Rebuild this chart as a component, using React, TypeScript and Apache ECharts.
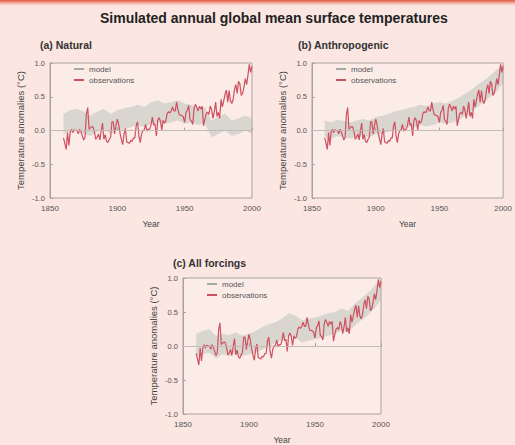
import React, { useEffect, useRef } from "react";
import * as echarts from "echarts";

const mainTitle = "Simulated annual global mean surface temperatures";
const panelTitles = ["(a) Natural", "(b) Anthropogenic", "(c) All forcings"];
const legendNames = ["model", "observations"];
const xTicks = [1850, 1900, 1950, 2000];
const yRange = [-1.0, 1.0];

const obsStart = 1860;
const observations = [
  -0.11, -0.19, -0.28, -0.03, -0.22, -0.03, 0.02, -0.03, 0.01, 0.0,
  0.0, -0.05, 0.02, -0.02, -0.08, -0.14, -0.1, 0.24, 0.34, 0.02,
  0.04, 0.06, 0.05, -0.02, -0.13, -0.1, -0.05, -0.14, -0.01, 0.11,
  -0.13, -0.06, -0.16, -0.18, -0.13, -0.1, 0.13, 0.13, -0.05, 0.07,
  0.17, 0.09, -0.04, -0.13, -0.21, -0.05, 0.03, -0.17, -0.18, -0.19,
  -0.15, -0.16, -0.11, -0.11, 0.07, 0.13, -0.08, -0.18, -0.05, 0.0,
  0.01, 0.09, -0.01, 0.02, 0.02, 0.08, 0.2, 0.08, 0.1, -0.08,
  0.15, 0.19, 0.14, 0.01, 0.15, 0.11, 0.14, 0.25, 0.28, 0.26,
  0.29, 0.35, 0.29, 0.29, 0.42, 0.31, 0.23, 0.23, 0.22, 0.2,
  0.12, 0.27, 0.3, 0.37, 0.16, 0.14, 0.09, 0.33, 0.39, 0.34,
  0.29, 0.36, 0.32, 0.36, 0.07, 0.17, 0.25, 0.27, 0.24, 0.36,
  0.31, 0.18, 0.28, 0.42, 0.21, 0.27, 0.18, 0.46, 0.35, 0.44,
  0.54, 0.6, 0.42, 0.59, 0.44, 0.4, 0.46, 0.61, 0.68, 0.55,
  0.73, 0.69, 0.52, 0.55, 0.64, 0.77, 0.68, 0.82, 0.98, 0.86,
  0.95,
];

const modelYears = [
  1860, 1865, 1870, 1875, 1880, 1885, 1890, 1895, 1900, 1905, 1910, 1915, 1920, 1925, 1930,
  1935, 1940, 1945, 1950, 1955, 1960, 1965, 1970, 1975, 1980, 1985, 1990, 1995, 2000,
];
const naturalLow = [
  -0.05, -0.02, 0.0, -0.05, -0.08, -0.02, 0.02, -0.05, 0.0, 0.02, 0.05, 0.08, 0.05, 0.1, 0.12,
  0.1, 0.12, 0.15, 0.1, 0.12, 0.08, 0.1, -0.1, -0.05, 0.0, -0.08, -0.05, 0.0, -0.05,
];
const naturalHigh = [
  0.25, 0.3, 0.32, 0.28, 0.22, 0.28, 0.32, 0.25, 0.3, 0.33, 0.35, 0.38, 0.35, 0.42, 0.45,
  0.4, 0.42, 0.45, 0.4, 0.38, 0.33, 0.35, 0.15, 0.2, 0.25, 0.15, 0.18, 0.22, 0.18,
];
const anthroLow = [
  -0.1, -0.12, -0.08, -0.1, -0.12, -0.1, -0.08, -0.1, -0.06, -0.05, -0.02, 0.0, 0.02, 0.05, 0.05,
  0.08, 0.06, 0.08, 0.12, 0.1, 0.12, 0.15, 0.22, 0.28, 0.35, 0.42, 0.5, 0.58, 0.7,
];
const anthroHigh = [
  0.15, 0.12, 0.16, 0.14, 0.12, 0.15, 0.17, 0.15, 0.2, 0.22, 0.25, 0.28, 0.3, 0.33, 0.35,
  0.38, 0.36, 0.4, 0.42, 0.4, 0.44, 0.48, 0.55, 0.6, 0.68, 0.74, 0.82, 0.9, 0.98,
];
const allLow = [
  -0.15, -0.12, -0.1, -0.18, -0.12, -0.15, -0.1, -0.15, -0.12, -0.1, -0.05, -0.02, 0.05, 0.08, 0.15,
  0.12, 0.05, 0.08, 0.1, 0.12, 0.15, 0.18, 0.22, 0.2, 0.3, 0.38, 0.45, 0.55, 0.68,
];
const allHigh = [
  0.18, 0.22, 0.25, 0.15, 0.18, 0.16, 0.2, 0.15, 0.18, 0.22, 0.28, 0.32, 0.35, 0.4, 0.48,
  0.45, 0.38, 0.4, 0.42, 0.45, 0.48, 0.5, 0.55, 0.52, 0.62, 0.7, 0.78, 0.88, 1.0,
];

const bands = [
  [naturalLow, naturalHigh],
  [anthroLow, anthroHigh],
  [allLow, allHigh],
];

const MODEL_COLOR = "rgba(160,178,165,0.38)";
const MODEL_ICON = "#a3aca4";
const OBS_COLOR = "#cf5060";
const BG = "#fbe6e2";
const PLOT_BG = "#fcece8";

const grids = [
  { left: 50, top: 63, width: 202, height: 135 },
  { left: 312, top: 63, width: 194, height: 135 },
  { left: 183, top: 278, width: 198, height: 139 },
];

export default function App() {
  const ref = useRef<HTMLDivElement>(null);
  useEffect(() => {
    if (!ref.current) return;
    const chart = echarts.init(ref.current, null, { renderer: "svg" });
    const obsData = observations.map((v, i) => [obsStart + i, v]);

    const series: any[] = [];
    grids.forEach((_, gi) => {
      const [lo, hi] = bands[gi];
      const bandData = modelYears.map((y, i) => [y, lo[i], hi[i]]);
      series.push({
        type: "custom",
        name: "model",
        xAxisIndex: gi,
        yAxisIndex: gi,
        silent: true,
        itemStyle: { color: MODEL_ICON },
        data: [[modelYears[0], lo[0]]],
        renderItem: (params: any, api: any) => {
          const upper = bandData.map((d) => api.coord([d[0], d[2]]));
          const lower = bandData.map((d) => api.coord([d[0], d[1]])).reverse();
          return {
            type: "polygon",
            shape: { points: upper.concat(lower) },
            style: { fill: MODEL_COLOR, stroke: "none" },
            silent: true,
          };
        },
        z: 1,
      });
      series.push({
        type: "line",
        name: "observations",
        xAxisIndex: gi,
        yAxisIndex: gi,
        symbol: "none",
        lineStyle: { width: 1.2, color: OBS_COLOR },
        itemStyle: { color: OBS_COLOR },
        data: obsData,
        z: 3,
        markLine: {
          silent: true,
          symbol: "none",
          label: { show: false },
          lineStyle: { color: "#c9c0be", width: 0.8, type: "solid" },
          data: [{ yAxis: 0 }],
        },
      });
    });

    const option: any = {
      animation: false,
      backgroundColor: BG,
      textStyle: { fontFamily: "Liberation Sans, Arial, sans-serif" },
      graphic: [
        {
          type: "rect",
          shape: { x: 0, y: 0, width: 515, height: 6 },
          style: {
            fill: new echarts.graphic.LinearGradient(0, 0, 0, 1, [
              { offset: 0, color: "#e0553a" },
              { offset: 1, color: "rgba(240,150,130,0)" },
            ]),
          },
          silent: true,
        },
      ],
      title: [
        {
          text: mainTitle,
          left: 95,
          top: 6,
          textStyle: { fontSize: 14, fontWeight: "bold", color: "#222" },
        },
        {
          text: panelTitles[0],
          left: 35,
          top: 34,
          textStyle: { fontSize: 10.5, fontWeight: "bold", color: "#333" },
        },
        {
          text: panelTitles[1],
          left: 293,
          top: 34,
          textStyle: { fontSize: 10.5, fontWeight: "bold", color: "#333" },
        },
        {
          text: panelTitles[2],
          left: 168,
          top: 252,
          textStyle: { fontSize: 10.5, fontWeight: "bold", color: "#333" },
        },
      ],
      legend: grids.map((g) => ({
        orient: "vertical",
        left: g.left + 24,
        top: g.top + 2,
        padding: 0,
        itemWidth: 10,
        itemHeight: 2,
        itemGap: 3,
        icon: "rect",
        textStyle: { fontSize: 8, color: "#555" },
        data: [
          { name: legendNames[0], itemStyle: { color: MODEL_ICON } },
          { name: legendNames[1], itemStyle: { color: OBS_COLOR } },
        ],
        selectedMode: false,
      })),
      grid: grids.map((g) => ({
        ...g,
        show: true,
        backgroundColor: PLOT_BG,
        borderColor: "#a9a2a0",
        borderWidth: 1,
      })),
      xAxis: grids.map((_, gi) => ({
        type: "value",
        gridIndex: gi,
        min: xTicks[0],
        max: xTicks[xTicks.length - 1],
        interval: 50,
        name: "Year",
        nameLocation: "middle",
        nameGap: 21,
        nameTextStyle: { fontSize: 8.5, color: "#444" },
        axisLine: { show: true, lineStyle: { color: "#a9a2a0" } },
        axisTick: { show: true, inside: true, length: 3, lineStyle: { color: "#a9a2a0" } },
        axisLabel: { fontSize: 8, color: "#555", margin: 6, formatter: (v: number) => String(v) },
        splitLine: { show: false },
      })),
      yAxis: grids.map((_, gi) => ({
        type: "value",
        gridIndex: gi,
        min: yRange[0],
        max: yRange[1],
        interval: 0.5,
        name: "Temperature anomalies (°C)",
        nameLocation: "middle",
        nameGap: 25,
        nameTextStyle: { fontSize: 9.5, color: "#444" },
        axisLine: { show: true, lineStyle: { color: "#a9a2a0" } },
        axisTick: { show: true, inside: true, length: 3, lineStyle: { color: "#a9a2a0" } },
        axisLabel: {
          fontSize: 7.5,
          color: "#555",
          margin: 5,
          formatter: (v: number) => v.toFixed(1),
        },
        splitLine: { show: false },
      })),
      series,
    };
    chart.setOption(option);
    return () => chart.dispose();
  }, []);

  return (
    <div
      ref={ref}
      style={{ position: "absolute", left: 0, top: 0, width: 515, height: 445 }}
    />
  );
}
